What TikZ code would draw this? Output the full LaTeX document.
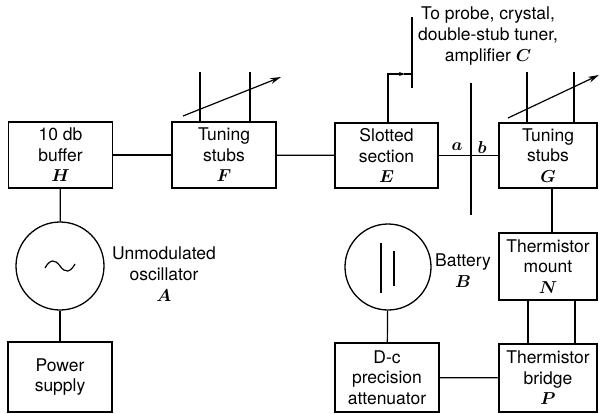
\documentclass[tikz,border=0pt]{standalone}
\usepackage{fontspec}
\usepackage{bm}
\setmainfont{TeX Gyre Heros}
\usetikzlibrary{arrows.meta}
\tikzset{
  box/.style={draw, line width=1.3pt, rectangle, align=center, inner sep=0pt,
    font=\fontsize{17.5}{20.5}\selectfont},
  lbl/.style={align=center, inner sep=0pt, font=\fontsize{17.5}{21}\selectfont},
  wire/.style={line width=1.2pt},
  tunearrow/.style={line width=1.2pt, -{Stealth[length=11pt,width=6pt]}},
  src/.style={draw, circle, line width=1.3pt, inner sep=0pt}
}
\newcommand{\lt}[1]{$\bm{#1}$}
\begin{document}
\begin{tikzpicture}[x=1pt,y=-1pt]
\useasboundingbox (0,0) rectangle (600,413);
% boxes
\node[box, minimum width=104pt, minimum height=66pt] (H) at (60.5,155) {10 db\\buffer\\\lt{H}};
\node[box, minimum width=104pt, minimum height=66pt] (F) at (224,155) {Tuning\\stubs\\\lt{F}};
\node[box, minimum width=103pt, minimum height=65pt] (E) at (386.5,155.5) {Slotted\\section\\\lt{E}};
\node[box, minimum width=98pt, minimum height=65pt] (G) at (548,155.5) {Tuning\\stubs\\\lt{G}};
\node[box, minimum width=98pt, minimum height=67pt] (N) at (548,266.5) {Thermistor\\mount\\\lt{N}};
\node[box, minimum width=98pt, minimum height=68pt] (P) at (548,378) {Thermistor\\bridge\\\lt{P}};
\node[box, minimum width=104pt, minimum height=69pt] (D) at (387,377.5) {D-c\\precision\\attenuator};
\node[box, minimum width=104pt, minimum height=70pt] (PS) at (60,377) {Power\\supply};
% sources
\node[src, minimum size=88pt] (A) at (60,266) {};
\node[src, minimum size=86pt] (B) at (388,267) {};
% labels
\node[lbl] (LA) at (164,274) {Unmodulated\\oscillator\\\lt{A}};
\node[lbl] (LB) at (463,271) {Battery\\\lt{B}};
\node[lbl] (LC) at (488,36) {To probe, crystal,\\double-stub tuner,\\amplifier \lt{C}};
\node[lbl] (la) at (457,147) {\lt{a}};
\node[lbl] (lb) at (482,147) {\lt{b}};
% tilde in A
\draw[wire] (45,268) .. controls (50,259) and (55,259) .. (60,266) .. controls (65,273) and (70,273) .. (75,264);
% battery plates
\draw[wire] (381,243) -- (381,293);
\draw[wire] (394,251) -- (394,286);
% connections
\draw[wire] (H) -- (F);
\draw[wire] (F) -- (E);
\draw[wire] (E) -- (G);
\draw[wire] (H) -- (A);
\draw[wire] (A) -- (PS);
\draw[wire] (B) -- (D);
\draw[wire] (D) -- (P);
\draw[wire] ([xshift=4pt]G.south) -- ([xshift=4pt]N.north);
\draw[wire] ([xshift=-20pt]N.south) -- ([xshift=-20pt]P.north);
\draw[wire] ([xshift=27pt]N.south) -- ([xshift=27pt]P.north);
% reference plane line
\coordinate (rt) at (471,83);
\coordinate (rb) at (471,215);
\draw[wire] (rt) -- (rb);
% probe
\coordinate (pt) at (412,17);
\coordinate (pbm) at (412,88);
\coordinate (pb) at (412,74);
\draw[wire] (pt) -- (pbm);
\draw[wire, -{Stealth[length=6pt,width=4pt]}] ([xshift=1.5pt]E.north) |- ([xshift=-7pt]pb);
\draw[wire] ([xshift=-8pt]pb) -- (pb);
% tuning stubs F
\draw[wire] ([xshift=-24pt]F.north) -- ++(0,-49);
\draw[wire] ([xshift=26pt]F.north) -- ++(0,-49);
\coordinate (fa) at (183,116);
\coordinate (fb) at (281,77);
\draw[tunearrow] (fa) -- (fb);
% tuning stubs G
\draw[wire] ([xshift=-21pt]G.north) -- ++(0,-50);
\draw[wire] ([xshift=26pt]G.north) -- ++(0,-50);
\coordinate (ga) at (508,118);
\coordinate (gb) at (599,75);
\draw[tunearrow] (ga) -- (gb);
\end{tikzpicture}
\end{document}
